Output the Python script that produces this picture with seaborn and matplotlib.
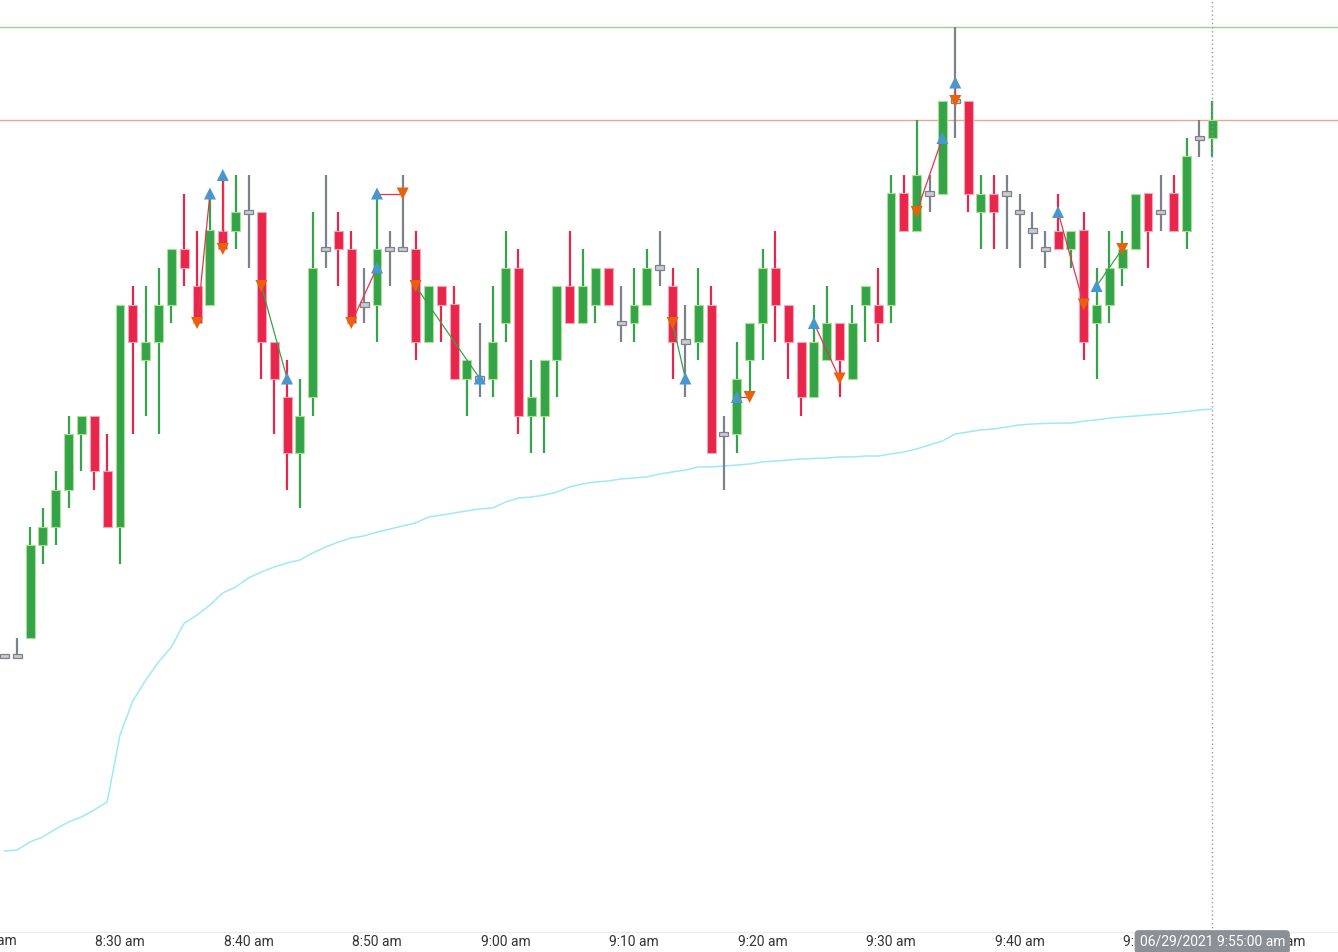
"""
One-minute candlestick chart with VWAP, key levels and trade markers (06/29/2021).
"""

import numpy as np
import pandas as pd
import matplotlib as mpl
import matplotlib.pyplot as plt
import matplotlib.dates as mdates
from matplotlib.ticker import FuncFormatter
import seaborn as sns

# ── Data ─────────────────────────────────────────────────────────────────────
open_ = [3.06, 3.06, 3.07, 3.12, 3.13, 3.15, 3.18, 3.19, 3.16, 3.13,
         3.25, 3.22, 3.23, 3.25, 3.28, 3.26, 3.25, 3.29, 3.29, 3.30,
         3.30, 3.23, 3.20, 3.17, 3.20, 3.28, 3.29, 3.28, 3.25, 3.25,
         3.28, 3.28, 3.28, 3.23, 3.26, 3.25, 3.21, 3.21, 3.21, 3.24,
         3.27, 3.19, 3.19, 3.22, 3.26, 3.24, 3.25, 3.27, 3.24, 3.24,
         3.25, 3.27, 3.26, 3.23, 3.23, 3.25, 3.18, 3.18, 3.22, 3.24,
         3.27, 3.25, 3.23, 3.20, 3.22, 3.24, 3.21, 3.25, 3.25, 3.25,
         3.31, 3.29, 3.31, 3.31, 3.36, 3.36, 3.30, 3.31, 3.31, 3.30,
         3.29, 3.28, 3.29, 3.28, 3.29, 3.24, 3.25, 3.27, 3.28, 3.31,
         3.30, 3.31, 3.29, 3.34, 3.34]
close = [3.06, 3.06, 3.12, 3.13, 3.15, 3.18, 3.19, 3.16, 3.13, 3.25,
         3.23, 3.23, 3.25, 3.28, 3.27, 3.24, 3.29, 3.28, 3.30, 3.30,
         3.23, 3.21, 3.17, 3.19, 3.27, 3.28, 3.28, 3.24, 3.25, 3.28,
         3.28, 3.28, 3.23, 3.26, 3.25, 3.21, 3.22, 3.21, 3.23, 3.27,
         3.19, 3.20, 3.22, 3.26, 3.24, 3.26, 3.27, 3.25, 3.24, 3.25,
         3.27, 3.27, 3.23, 3.23, 3.25, 3.17, 3.18, 3.21, 3.24, 3.27,
         3.25, 3.23, 3.20, 3.23, 3.24, 3.22, 3.24, 3.26, 3.24, 3.31,
         3.29, 3.32, 3.31, 3.36, 3.36, 3.31, 3.31, 3.30, 3.31, 3.30,
         3.29, 3.28, 3.28, 3.29, 3.23, 3.25, 3.27, 3.28, 3.31, 3.29,
         3.30, 3.29, 3.33, 3.34, 3.35]
high = [3.06, 3.07, 3.13, 3.14, 3.16, 3.19, 3.19, 3.19, 3.18, 3.25,
        3.26, 3.26, 3.27, 3.28, 3.31, 3.29, 3.31, 3.32, 3.32, 3.32,
        3.30, 3.23, 3.22, 3.21, 3.30, 3.32, 3.30, 3.29, 3.27, 3.31,
        3.29, 3.32, 3.29, 3.26, 3.26, 3.26, 3.22, 3.24, 3.26, 3.29,
        3.28, 3.22, 3.22, 3.26, 3.29, 3.28, 3.27, 3.27, 3.26, 3.27,
        3.28, 3.29, 3.27, 3.25, 3.27, 3.26, 3.19, 3.23, 3.24, 3.28,
        3.29, 3.25, 3.23, 3.25, 3.26, 3.24, 3.25, 3.26, 3.27, 3.32,
        3.32, 3.35, 3.32, 3.36, 3.40, 3.36, 3.32, 3.32, 3.32, 3.31,
        3.30, 3.29, 3.31, 3.29, 3.30, 3.27, 3.29, 3.29, 3.31, 3.31,
        3.32, 3.32, 3.34, 3.35, 3.36]
low = [3.06, 3.06, 3.07, 3.11, 3.12, 3.14, 3.16, 3.15, 3.13, 3.11,
       3.18, 3.19, 3.18, 3.24, 3.26, 3.24, 3.25, 3.28, 3.28, 3.27,
       3.21, 3.18, 3.15, 3.14, 3.19, 3.27, 3.26, 3.24, 3.24, 3.23,
       3.26, 3.28, 3.22, 3.23, 3.23, 3.21, 3.19, 3.20, 3.20, 3.23,
       3.18, 3.17, 3.17, 3.20, 3.24, 3.24, 3.24, 3.25, 3.23, 3.23,
       3.25, 3.26, 3.21, 3.20, 3.22, 3.17, 3.15, 3.17, 3.20, 3.22,
       3.23, 3.21, 3.19, 3.20, 3.22, 3.20, 3.21, 3.23, 3.23, 3.24,
       3.29, 3.29, 3.30, 3.31, 3.34, 3.30, 3.28, 3.28, 3.28, 3.27,
       3.28, 3.27, 3.28, 3.27, 3.22, 3.21, 3.24, 3.26, 3.28, 3.27,
       3.29, 3.29, 3.28, 3.33, 3.33]
vwap = [2.9546, 2.9551, 2.9595, 2.9622, 2.9665, 2.9703, 2.9730, 2.9768, 2.9811, 3.0173,
        3.0357, 3.0470, 3.0568, 3.0649, 3.0778, 3.0822, 3.0876, 3.0941, 3.0973, 3.1022,
        3.1054, 3.1081, 3.1103, 3.1119, 3.1157, 3.1189, 3.1216, 3.1238, 3.1249, 3.1270,
        3.1286, 3.1303, 3.1319, 3.1351, 3.1362, 3.1373, 3.1384, 3.1395, 3.1400, 3.1432,
        3.1454, 3.1459, 3.1470, 3.1486, 3.1514, 3.1530, 3.1541, 3.1546, 3.1557, 3.1562,
        3.1568, 3.1584, 3.1595, 3.1605, 3.1622, 3.1622, 3.1627, 3.1632, 3.1638, 3.1649,
        3.1654, 3.1659, 3.1665, 3.1668, 3.1670, 3.1676, 3.1676, 3.1681, 3.1681, 3.1692,
        3.1703, 3.1719, 3.1741, 3.1762, 3.1800, 3.1811, 3.1822, 3.1827, 3.1838, 3.1849,
        3.1854, 3.1857, 3.1859, 3.1859, 3.1870, 3.1876, 3.1886, 3.1892, 3.1897, 3.1903,
        3.1908, 3.1914, 3.1922, 3.1930, 3.1935]
times = pd.date_range("2021-06-29 08:21", periods=len(open_), freq="min")

# trades: bar index + price of entry / exit
trade_side = ["short", "long", "short", "short", "long", "short", "short",
              "long", "long", "short", "long", "long", "long"]
entry_idx = [15, 17, 20, 27, 29, 32, 52, 57, 63, 71, 74, 82, 85]
entry_px = [3.24, 3.32, 3.26, 3.24, 3.31, 3.26, 3.24, 3.20, 3.24, 3.30, 3.37, 3.30, 3.26]
exit_idx = [16, 17, 22, 29, 31, 37, 53, 58, 65, 73, 74, 84, 87]
exit_px = [3.31, 3.28, 3.21, 3.27, 3.31, 3.21, 3.21, 3.20, 3.21, 3.34, 3.36, 3.25, 3.28]

LEVEL_TOP = 3.40
LEVEL_MID = 3.35
CURSOR_TIME = pd.Timestamp("2021-06-29 09:55")

# ── Style ────────────────────────────────────────────────────────────────────
sns.set_theme(style="white")
mpl.rcParams["font.family"] = ["Roboto", "DejaVu Sans"]

COL_UP, COL_UP_EDGE = "#34a34a", "#a8e28f"
COL_DN, COL_DN_EDGE = "#e8264b", "#f5a5b5"
COL_FLAT = "#7d828a"
COL_BUY, COL_SELL = "#4a97cf", "#e8610c"
COL_WIN, COL_LOSS = "#3aa04a", "#e8334f"

W, H, DPI = 1338, 952, 100
fig = plt.figure(figsize=(W / DPI, H / DPI), dpi=DPI)
ax = fig.add_axes([0, 20 / H, 1, 932 / H])

df = pd.DataFrame(dict(time=times, open=open_, close=close, high=high, low=low, vwap=vwap))
tnum = mdates.date2num(df["time"])
bar_w = 0.70 / 1440

# VWAP
sns.lineplot(data=df, x="time", y="vwap", ax=ax, color="#9fe8fa", lw=1.1, zorder=1)

# candles
up = df["close"] > df["open"]
dn = df["close"] < df["open"]
flat = ~(up | dn)
for mask, col, edge in [(up, COL_UP, COL_UP_EDGE), (dn, COL_DN, COL_DN_EDGE)]:
    sub = df[mask]
    t = tnum[mask.values]
    ax.vlines(t, sub["low"], sub["high"], color=col, lw=1.6, zorder=2)
    ax.bar(t, (sub["close"] - sub["open"]).abs(), bottom=np.minimum(sub["open"], sub["close"]),
           width=bar_w, color=col, edgecolor=edge, lw=0.8, zorder=3)
sub = df[flat]
t = tnum[flat.values]
ax.vlines(t, sub["low"], sub["high"], color=COL_FLAT, lw=1.6, zorder=2)
ax.bar(t, 0.0022, bottom=sub["open"] - 0.0011, width=bar_w, color="#c9cbcf",
       edgecolor=COL_FLAT, lw=0.9, zorder=3)

# key levels
ax.axhline(LEVEL_TOP, color="#93d493", lw=1.0, zorder=1)
ax.axhline(LEVEL_MID, color="#eba592", lw=1.0, zorder=1)

# trades
buys_t, buys_p, sells_t, sells_p = [], [], [], []
for side, ei, ep, xi, xp in zip(trade_side, entry_idx, entry_px, exit_idx, exit_px):
    pnl = (xp - ep) if side == "long" else (ep - xp)
    ax.plot([times[ei], times[xi]], [ep, xp], color=COL_WIN if pnl > 0 else COL_LOSS,
            lw=0.9, zorder=4)
    if side == "long":
        buys_t.append(times[ei]); buys_p.append(ep)
        sells_t.append(times[xi]); sells_p.append(xp)
    else:
        sells_t.append(times[ei]); sells_p.append(ep)
        buys_t.append(times[xi]); buys_p.append(xp)
sns.scatterplot(x=buys_t, y=buys_p, marker="^", s=75, color=COL_BUY, edgecolor="none",
                ax=ax, zorder=5)
sns.scatterplot(x=sells_t, y=sells_p, marker="v", s=75, color=COL_SELL, edgecolor="none",
                ax=ax, zorder=5)

# crosshair
ax.axvline(CURSOR_TIME, color="#9a9a9a", lw=1.0, ls=(0, (1, 2)), zorder=6)

# ── Axes ─────────────────────────────────────────────────────────────────────
px_per_min = 12.85
x0 = times[0] - pd.Timedelta(minutes=4.35 / px_per_min)
x1 = times[0] + pd.Timedelta(minutes=(W - 4.35) / px_per_min)
ax.set_xlim(x0, x1)
ax.set_ylim(LEVEL_TOP - 905 / 1850, LEVEL_TOP + 27 / 1850)

fmt = lambda v, pos: mdates.num2date(v).strftime("%I:%M %p").lstrip("0").lower()
ax.xaxis.set_major_locator(mdates.MinuteLocator(byminute=range(0, 60, 10)))
ax.xaxis.set_major_formatter(FuncFormatter(fmt))
ax.tick_params(axis="x", length=0, pad=2, labelsize=10, labelcolor="#333333")
ax.set_yticks([])
ax.set_xlabel("")
ax.set_ylabel("")
for s in ["top", "left", "right"]:
    ax.spines[s].set_visible(False)
ax.spines["bottom"].set_color("#ececec")
ax.spines["bottom"].set_linewidth(1.0)
ax.grid(False)
if ax.legend_:
    ax.legend_.remove()

# the 8:20 label sits partly off the left edge
ax.text(pd.Timestamp("2021-06-29 08:20"), -2 / 932, "8:20 am", transform=ax.get_xaxis_transform(),
        ha="center", va="top", fontsize=10, color="#333333", clip_on=False)

# cursor time tooltip (covers the 9:50 / 10:00 labels, as in the app)
cursor_x = ax.transData.transform((mdates.date2num(CURSOR_TIME), 0))[0] / W
fig.text(cursor_x, 1 - 942 / H, "06/29/2021 9:55:00 am", ha="center", va="center",
         fontsize=10, color="white", zorder=10,
         bbox=dict(boxstyle="round,pad=0.35,rounding_size=0.3", fc="#8b9097", ec="none"))

fig.savefig("out.png", dpi=DPI)
